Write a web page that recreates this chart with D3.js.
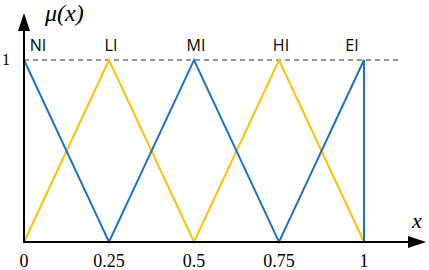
<!DOCTYPE html>
<html><head><meta charset="utf-8">
<script src="https://cdn.jsdelivr.net/npm/d3@7"></script>
<style>body{margin:0;background:#fff}
.serif{font-family:'Liberation Serif',serif}
.sans{font-family:'Open Sans',sans-serif}
</style>
</head><body>
<svg id="c" width="429" height="270"></svg>
<script>
const labels = ["NI","LI","MI","HI","EI"];
const peaks = [0,0.25,0.5,0.75,1];
const labelShift = [14,2,2,2,-12];
const tickValues = [0,0.25,0.5,0.75,1];
const tickLabels = ["0","0.25","0.5","0.75","1"];
const blueX = [0,0.25,0.5,0.75,1,1];
const blueY = [1,0,1,0,1,0];
const yellowX = [0,0.25,0.5,0.75,1];
const yellowY = [0,1,0,1,0];

const svg = d3.select("#c");
const x = d3.scaleLinear().domain([0,1]).range([24,364]);
const y = d3.scaleLinear().domain([0,1]).range([242,60]);

svg.append("line").attr("x1",x(0)).attr("x2",400).attr("y1",y(1)).attr("y2",y(1))
  .attr("stroke","#333").attr("stroke-width",1).attr("stroke-dasharray","5,4");

const line = d3.line().x(d=>x(d[0])).y(d=>y(d[1]));
svg.append("path").datum(yellowX.map((v,i)=>[v,yellowY[i]])).attr("d",line)
  .attr("fill","none").attr("stroke","#FFC000").attr("stroke-width",2);
svg.append("path").datum(blueX.map((v,i)=>[v,blueY[i]])).attr("d",line)
  .attr("fill","none").attr("stroke","#1F6FCC").attr("stroke-width",2);

svg.append("line").attr("x1",x(0)).attr("x2",410).attr("y1",y(0)).attr("y2",y(0)).attr("stroke","#000").attr("stroke-width",2);
svg.append("path").attr("d",`M408,${y(0)-6}L426,${y(0)}L408,${y(0)+6}Z`).attr("fill","#000");
svg.append("line").attr("x1",x(0)).attr("x2",x(0)).attr("y1",y(0)+1).attr("y2",28).attr("stroke","#000").attr("stroke-width",2);
svg.append("path").attr("d",`M${x(0)-6},31L${x(0)},13L${x(0)+6},31Z`).attr("fill","#000");

svg.selectAll("text.tick").data(tickValues).enter().append("text")
  .attr("class","serif")
  .attr("x",d=>x(d)).attr("y",267).attr("text-anchor","middle")
  .attr("font-size",18)
  .text((d,i)=>tickLabels[i]);
svg.append("text").attr("class","serif").attr("x",6).attr("y",65).attr("text-anchor","middle")
  .attr("font-size",16).text("1");

svg.selectAll("text.lab").data(labels).enter().append("text")
  .attr("class","sans")
  .attr("x",(d,i)=>x(peaks[i])+labelShift[i]).attr("y",51).attr("text-anchor","middle")
  .attr("font-size",16).text(d=>d);

svg.append("text").attr("class","serif").attr("x",45).attr("y",21)
  .attr("font-style","italic").attr("font-size",24).text("μ(x)");
svg.append("text").attr("class","serif").attr("x",412).attr("y",228)
  .attr("font-style","italic").attr("font-size",22).text("x");
</script>
</body></html>
